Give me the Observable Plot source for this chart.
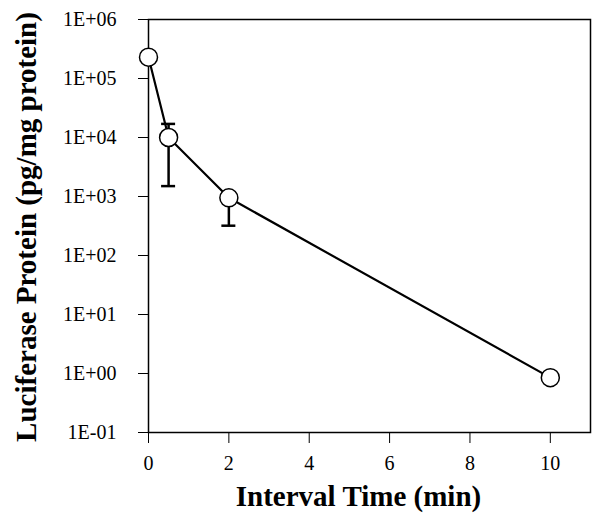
<!DOCTYPE html>
<html>
<head>
<meta charset="utf-8">
<script src="https://cdn.jsdelivr.net/npm/d3@7"></script>
<script src="https://cdn.jsdelivr.net/npm/@observablehq/plot@0.6"></script>
<style>
  html, body { margin: 0; padding: 0; background: #fff; }
  #chart svg { display: block; }
</style>
</head>
<body>
<div id="chart"></div>
<script>
const times = [0, 0.5, 2, 10];
const protein = [230000, 10000, 950, 0.85];
const errLow = [null, 1500, 320, null];
const errHigh = [null, 17000, null, null];
const yTicks = [0.1, 1, 10, 100, 1000, 10000, 100000, 1000000];
const yTickLabels = ["1E-01", "1E+00", "1E+01", "1E+02", "1E+03", "1E+04", "1E+05", "1E+06"];
const xTicks = [0, 2, 4, 6, 8, 10];

const data = times.map((t, i) => ({t, v: protein[i], lo: errLow[i], hi: errHigh[i]}));
const lows = data.filter(d => d.lo != null);
const highs = data.filter(d => d.hi != null);

const serif = "'Liberation Serif', 'Times New Roman', serif";

const plot = Plot.plot({
  width: 600,
  height: 526,
  marginLeft: 148,
  marginRight: 10,
  marginTop: 19,
  marginBottom: 94,
  style: {fontFamily: serif, fontSize: "20px", color: "#000", background: "#fff"},
  x: {type: "linear", domain: [0, 11]},
  y: {type: "log", domain: [0.1, 1000000]},
  marks: [
    Plot.frame({stroke: "#000", strokeWidth: 1.5}),
    Plot.axisY({ticks: yTicks, tickFormat: d => yTickLabels[yTicks.indexOf(d)], tickSize: 10, tickPadding: 22, label: null, fontSize: 20}),
    Plot.axisX({ticks: xTicks, tickSize: 11, tickPadding: 12, label: null, fontSize: 20}),
    Plot.ruleX(lows, {x: "t", y1: "lo", y2: "v", stroke: "#000", strokeWidth: 2.5}),
    Plot.ruleX(highs, {x: "t", y1: "v", y2: "hi", stroke: "#000", strokeWidth: 2.5}),
    Plot.ruleY(lows, {y: "lo", x1: "t", x2: "t", insetLeft: -7, insetRight: -7, stroke: "#000", strokeWidth: 2.5}),
    Plot.ruleY(highs, {y: "hi", x1: "t", x2: "t", insetLeft: -7, insetRight: -7, stroke: "#000", strokeWidth: 2.5}),
    Plot.line(data, {x: "t", y: "v", stroke: "#000", strokeWidth: 2.2}),
    Plot.dot(data, {x: "t", y: "v", r: 9, fill: "#fff", stroke: "#000", strokeWidth: 1.5}),
    Plot.text(["Luciferase Protein (pg/mg protein)"], {frameAnchor: "left", textAnchor: "middle", rotate: -90, dx: -122, dy: 1, fontSize: 29, fontWeight: "bold", fontFamily: serif}),
    Plot.text(["Interval Time (min)"], {frameAnchor: "bottom", dx: -11, dy: 73, fontSize: 29, fontWeight: "bold", fontFamily: serif})
  ]
});
document.getElementById("chart").appendChild(plot);
</script>
</body>
</html>
